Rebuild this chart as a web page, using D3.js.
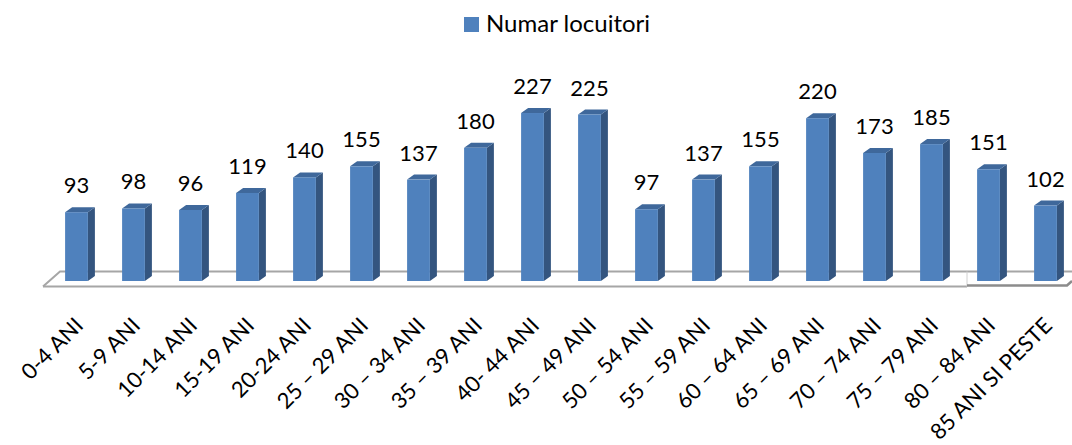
<!DOCTYPE html>
<html><head><meta charset="utf-8">
<script src="https://cdn.jsdelivr.net/npm/d3@7"></script>
<style>body{margin:0;background:#fff}svg{display:block}</style>
</head><body><svg id="c" width="1072" height="445"></svg>
<script>
const categories = ["0-4 ANI","5-9 ANI","10-14 ANI","15-19 ANI","20-24 ANI","25 – 29 ANI","30 – 34 ANI","35 – 39 ANI","40- 44 ANI","45 – 49 ANI","50 – 54 ANI","55 – 59 ANI","60 – 64 ANI","65 – 69 ANI","70 – 74 ANI","75 – 79 ANI","80 – 84 ANI","85 ANI SI PESTE"];
const values = [93,98,96,119,140,155,137,180,227,225,97,137,155,220,173,185,151,102];
const seriesName = "Numar locuitori";

const svg = d3.select("#c");
const font = "Lato, 'Open Sans', sans-serif";
const x = d3.scaleBand().domain(categories).range([48, 1074]).paddingInner(0.6).paddingOuter(0.3);
const y = d3.scaleLinear().domain([0, 250]).range([281, 96]);
const dx = 7, dy = 5;

// floor
const floor = svg.append("g").attr("fill", "none");
floor.append("path").attr("d", "M43,286.5 L60,271.5 L1072,271.5").attr("stroke", "#a6a6a6").attr("stroke-width", 2);
floor.append("path").attr("d", "M43,286.5 L967,286.5").attr("stroke", "#a6a6a6").attr("stroke-width", 2);
floor.append("path").attr("d", "M967,271.5 L967,286.5").attr("stroke", "#d0d0d0").attr("stroke-width", 1);
floor.append("path").attr("d", "M967,285.5 L1067,285.5 L1072,281").attr("stroke", "#8c8c8c").attr("stroke-width", 2.5);

const g = svg.append("g");
const bars = g.selectAll("g.bar").data(values).join("g");
bars.each(function(v, i) {
  const gb = d3.select(this);
  const x0 = x(categories[i]), w = x.bandwidth(), yt = y(v), yb = y(0);
  gb.append("path").attr("d", `M${x0+w},${yt} L${x0+w+dx},${yt-dy} L${x0+w+dx},${yb-dy} L${x0+w},${yb} Z`).attr("fill", "#34557f");
  gb.append("path").attr("d", `M${x0},${yt} L${x0+dx},${yt-dy} L${x0+w+dx},${yt-dy} L${x0+w},${yt} Z`).attr("fill", "#3f689b");
  gb.append("rect").attr("x", x0).attr("y", yt).attr("width", w).attr("height", yb - yt).attr("fill", "#4f81bd");
  gb.append("text").attr("x", x0 + w/2).attr("y", yt - 19).attr("text-anchor", "middle")
    .attr("font-family", font).attr("font-size", 22).attr("fill", "#000").text(v);
});

// x labels
svg.append("g").selectAll("text").data(categories).join("text")
  .attr("transform", d => `translate(${x(d) + x.bandwidth()/2 + 8},${327}) rotate(-45)`)
  .attr("text-anchor", "end").attr("font-family", font).attr("font-size", 22).attr("fill", "#000")
  .text(d => d);

// legend
const lg = svg.append("g");
lg.append("rect").attr("x", 464).attr("y", 17).attr("width", 15).attr("height", 15).attr("fill", "#4f81bd");
lg.append("text").attr("x", 486).attr("y", 32).attr("font-family", font).attr("font-size", 24).attr("fill", "#000").text(seriesName);
</script></body></html>
